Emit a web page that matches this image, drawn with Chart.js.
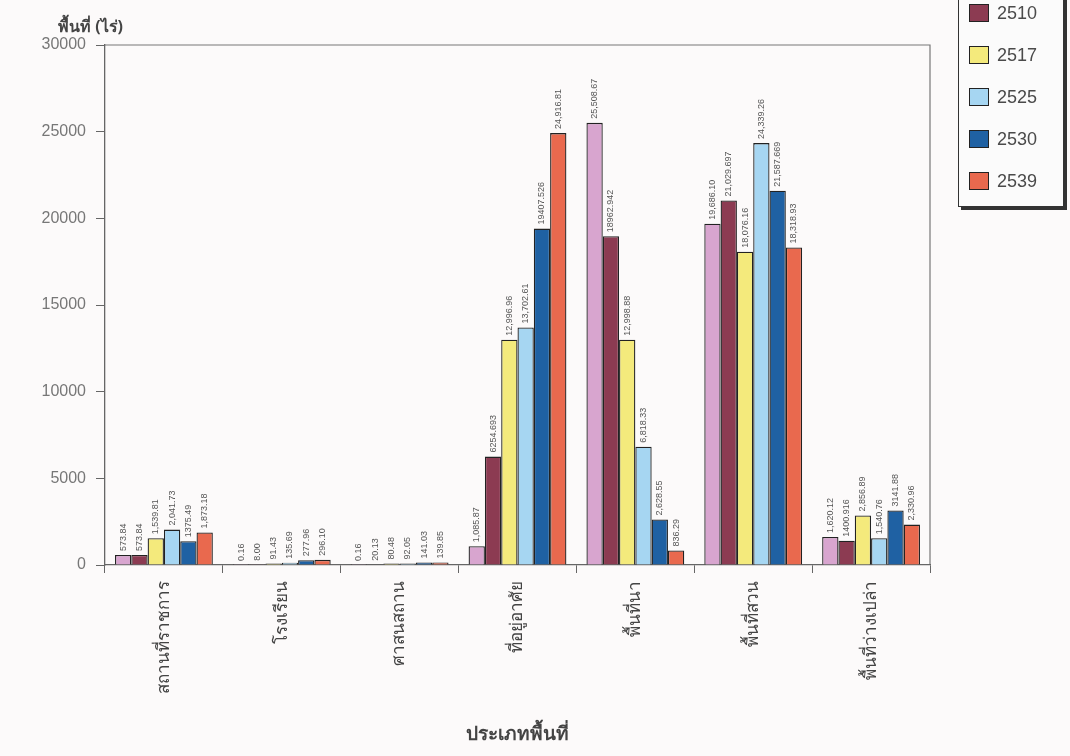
<!DOCTYPE html>
<html>
<head>
<meta charset="utf-8">
<script src="https://cdn.jsdelivr.net/npm/chart.js@4.4.1/dist/chart.umd.min.js"></script>
<style>
  html, body { margin: 0; padding: 0; background: #fcfafa; }
  #wrap { position: relative; width: 1070px; height: 756px; overflow: hidden; }
  #yTitle { position: absolute; left: 58px; top: 14px; font: bold 16px "Noto Sans", sans-serif; color: #444; }
  #legend {
    position: absolute; left: 958px; top: -55px; width: 104px;
    border: 1px solid #333; background: #fbfbfb;
    box-shadow: 3px 3px 0 #333; padding: 4px 0 4px 0;
  }
  .item { display: flex; align-items: center; height: 42px; padding-left: 10px; font: 18px "Liberation Sans", sans-serif; color: #4a4a4a; }
  .sw { width: 18px; height: 16px; border: 1px solid #222; margin-right: 8px; }
</style>
</head>
<body>
<div id="wrap">
  <canvas id="c" width="1070" height="756"></canvas>
  <div id="yTitle">พื้นที่ (ไร่)</div>
  <div id="legend"></div>
</div>
<script>
// categories (x axis)
const categories = ['สถานที่ราชการ', 'โรงเรียน', 'ศาสนสถาน', 'ที่อยู่อาศัย', 'พื้นที่นา', 'พื้นที่สวน', 'พื้นที่ว่างเปล่า'];

// series, one per year (values as printed above each bar)
const years = ['2503', '2510', '2517', '2525', '2530', '2539'];
const s2503 = ['573.84', '0.16', '0.16', '1,085.87', '25,508.67', '19,686.10', '1,620.12'];
const s2510 = ['573.84', '8.00', '20.13', '6254.693', '18962.942', '21,029.697', '1400.916'];
const s2517 = ['1,539.81', '91.43', '80.48', '12,996.96', '12,998.88', '18,076.16', '2,856.89'];
const s2525 = ['2,041.73', '135.69', '92.05', '13,702.61', '6,818.33', '24,339.26', '1,540.76'];
const s2530 = ['1375.49', '277.96', '141.03', '19407.526', '2,628.55', '21,587.669', '3141.88'];
const s2539 = ['1,873.18', '296.10', '139.85', '24,916.81', '836.29', '18,318.93', '2,330.96'];
const seriesText = [s2503, s2510, s2517, s2525, s2530, s2539];
const colors = ['#d8a5cf', '#8c3b52', '#f4ea7c', '#a6d6f2', '#1f61a3', '#e9694e'];

const yTicks = [0, 5000, 10000, 15000, 20000, 25000, 30000];

const toNum = (s) => parseFloat(s.replace(/,/g, ''));

// legend (top entry sits above the page edge, as in the scan)
const legendEl = document.getElementById('legend');
years.forEach((y, i) => {
  legendEl.innerHTML += `<div class="item"><div class="sw" style="background:${colors[i]}"></div>${y}</div>`;
});

const barLabels = {
  id: 'barLabels',
  afterDatasetsDraw(chart) {
    const ctx = chart.ctx;
    ctx.save();
    ctx.font = '9px "Liberation Sans", sans-serif';
    ctx.fillStyle = '#555';
    ctx.textAlign = 'left';
    ctx.textBaseline = 'middle';
    chart.data.datasets.forEach((ds, i) => {
      chart.getDatasetMeta(i).data.forEach((bar, j) => {
        ctx.save();
        ctx.translate(bar.x, bar.y - 4);
        ctx.rotate(-Math.PI / 2);
        ctx.fillText(ds.labelsText[j], 0, 0);
        ctx.restore();
      });
    });
    ctx.restore();
  },
};

const frame = {
  id: 'frame',
  beforeDraw(chart) {
    const { ctx, chartArea: a } = chart;
    ctx.save();
    ctx.fillStyle = '#fcfafa';
    ctx.fillRect(0, 0, chart.width, chart.height);
    ctx.strokeStyle = '#777';
    ctx.lineWidth = 1.2;
    ctx.beginPath();
    ctx.moveTo(a.left, a.top);
    ctx.lineTo(a.right, a.top);
    ctx.lineTo(a.right, a.bottom);
    ctx.stroke();
    ctx.restore();
  },
};

new Chart(document.getElementById('c'), {
  type: 'bar',
  data: {
    labels: categories,
    datasets: years.map((y, i) => ({
      label: y,
      data: seriesText[i].map(toNum),
      labelsText: seriesText[i],
      backgroundColor: colors[i],
      borderColor: '#222',
      borderWidth: 1.3,
      barPercentage: 1,
      categoryPercentage: 0.83,
    })),
  },
  options: {
    responsive: false,
    animation: false,
    layout: { padding: { top: 45, right: 140, left: 0, bottom: 6 } },
    plugins: { legend: { display: false }, tooltip: { enabled: false } },
    scales: {
      y: {
        min: 0,
        max: 30000,
        afterFit: (s) => { s.width = 105; },
        afterBuildTicks: (s) => { s.ticks = yTicks.map((v) => ({ value: v })); },
        ticks: { color: '#777', font: { family: 'Liberation Sans', size: 16 }, padding: 10, callback: (v) => String(v) },
        grid: { drawOnChartArea: false, tickLength: 9, color: '#666' },
        border: { color: '#666', width: 1.3 },
      },
      x: {
        afterFit: (s) => { s.height = 185; },
        ticks: { color: '#444', font: { family: 'Noto Sans', size: 17 }, minRotation: 90, maxRotation: 90, padding: 8 },
        grid: { drawOnChartArea: false, tickLength: 8, color: '#666' },
        border: { color: '#666', width: 1.3 },
        title: { display: true, text: 'ประเภทพื้นที่', color: '#444', font: { family: 'Noto Sans', size: 19, weight: 'bold' }, padding: { top: 20 } },
      },
    },
  },
  plugins: [frame, barLabels],
});
</script>
</body>
</html>
